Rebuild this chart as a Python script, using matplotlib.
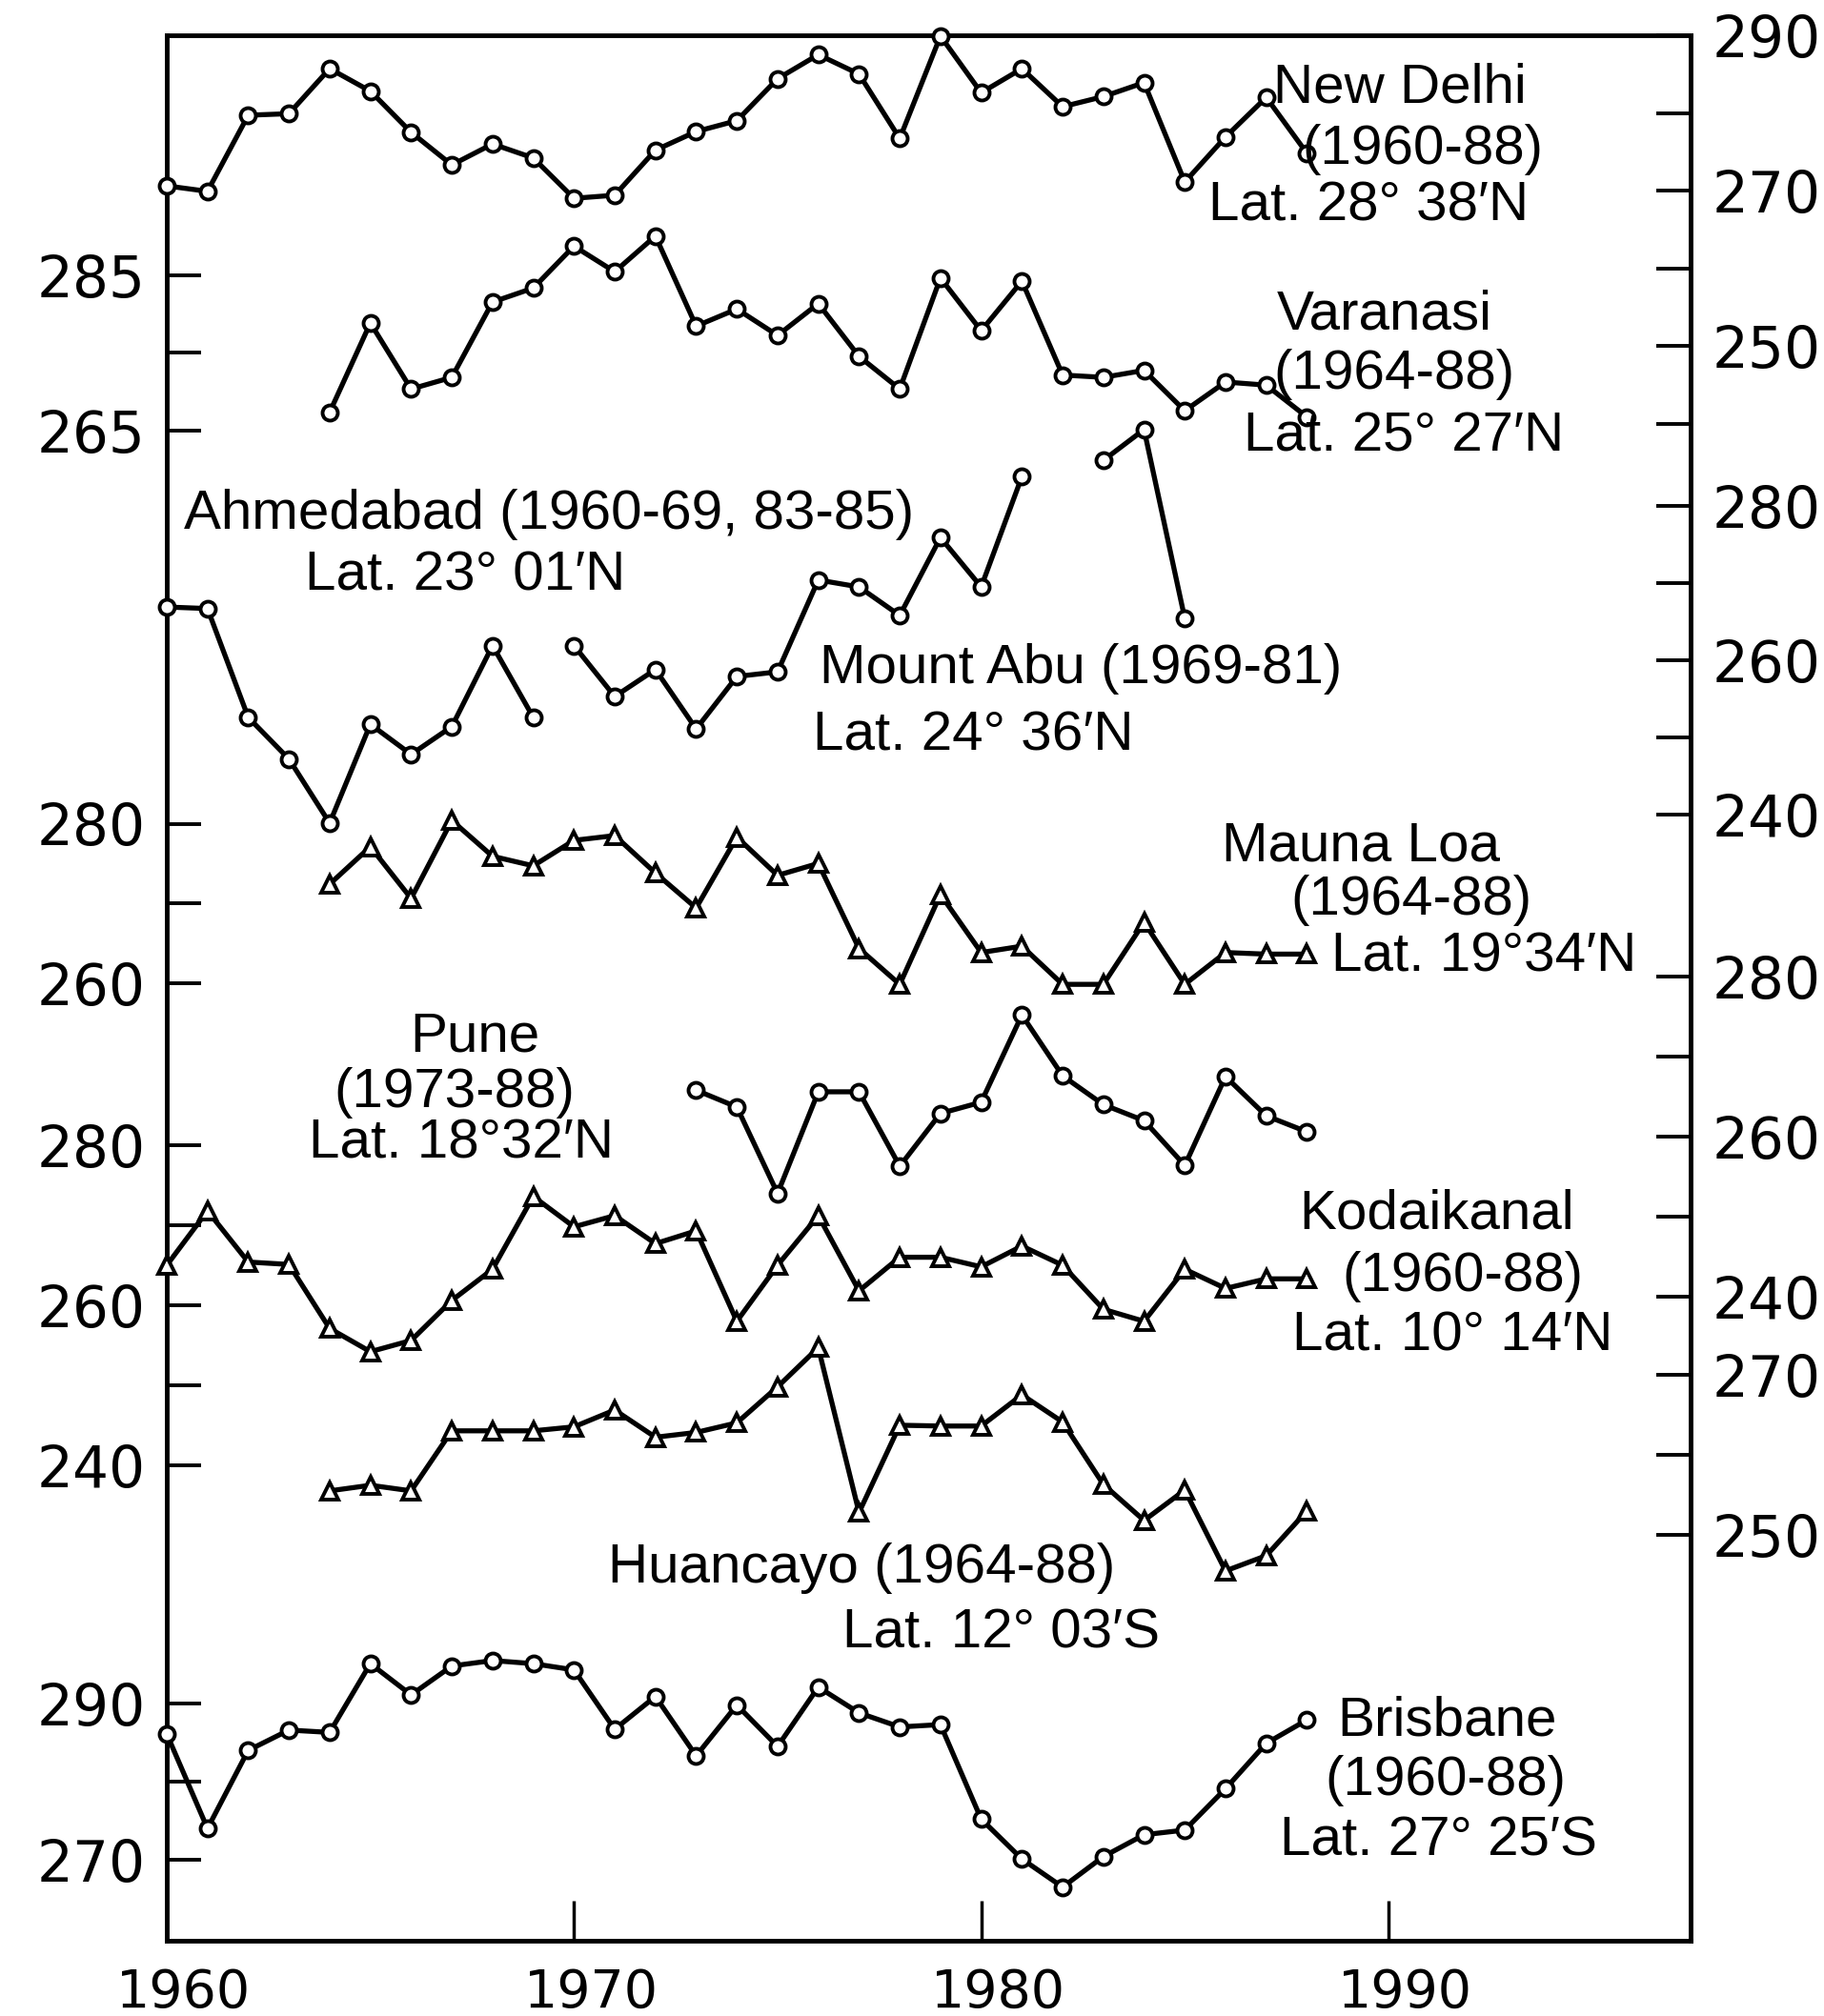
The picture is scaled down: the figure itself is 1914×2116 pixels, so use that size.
import numpy as np
import matplotlib
matplotlib.use('Agg')
import matplotlib.pyplot as plt
import matplotlib.transforms as mtransforms

# ---- data (annual mean total ozone) ----
nd_years = list(range(1960, 1989))
new_delhi = [270.6, 269.9, 279.7, 279.9, 285.7, 282.8, 277.5, 273.3, 276.0, 274.2,
             269.0, 269.4, 275.2, 277.6, 279.0, 284.4, 287.5, 285.0, 276.7, 289.9,
             282.6, 285.7, 280.8, 282.1, 283.9, 271.1, 276.9, 282.0, 274.8]

va_years = list(range(1964, 1989))
varanasi = [267.3, 278.8, 270.3, 271.8, 281.5, 283.3, 288.7, 285.4, 290.0, 278.4,
            280.6, 277.2, 281.3, 274.5, 270.3, 284.6, 277.8, 284.2, 272.1, 271.8,
            272.7, 267.5, 271.2, 270.8, 266.7]

ah_years_a = list(range(1960, 1970))
ahmedabad_a = [266.9, 266.7, 252.6, 247.2, 238.9, 251.7, 247.8, 251.4, 261.9, 252.6]
ah_years_b = [1983, 1984, 1985]
ahmedabad_b = [285.9, 289.9, 265.4]

ma_years = list(range(1970, 1982))
mount_abu = [261.9, 255.3, 258.8, 251.1, 257.9, 258.5, 270.4, 269.5, 265.8, 275.9,
             269.5, 283.8]

ml_years = list(range(1964, 1989))
mauna_loa = [272.4, 277.1, 270.6, 280.4, 275.9, 274.7, 277.9, 278.5, 273.8, 269.4,
             278.3, 273.5, 275.0, 264.3, 259.8, 271.1, 263.8, 264.6, 259.8, 259.8,
             267.6, 259.8, 263.8, 263.6, 263.6]

pu_years = list(range(1973, 1989))
pune = [265.8, 263.7, 252.9, 265.6, 265.6, 256.3, 262.9, 264.3, 275.2, 267.6,
        264.0, 262.0, 256.4, 267.5, 262.6, 260.6]

ko_years = list(range(1960, 1989))
kodaikanal = [265.0, 271.8, 265.4, 265.1, 257.1, 254.2, 255.6, 260.6, 264.5, 273.6,
              269.8, 271.2, 267.7, 269.3, 258.0, 265.0, 271.2, 261.8, 266.0, 266.0,
              264.8, 267.4, 265.0, 259.5, 258.0, 264.5, 262.1, 263.3, 263.3]

hu_years = list(range(1964, 1989))
huancayo = [255.5, 256.2, 255.5, 263.0, 263.0, 263.0, 263.5, 265.6, 262.2, 262.8,
            264.0, 268.5, 273.4, 252.8, 263.7, 263.6, 263.6, 267.5, 264.1, 256.3,
            251.8, 255.6, 245.5, 247.4, 253.0]

br_years = list(range(1960, 1989))
brisbane = [286.1, 274.0, 284.0, 286.6, 286.3, 295.1, 291.1, 294.8, 295.5, 295.1,
            294.3, 286.7, 290.9, 283.3, 289.8, 284.5, 292.1, 288.8, 287.0, 287.3,
            275.2, 270.1, 266.5, 270.4, 273.2, 273.8, 279.1, 284.9, 287.9]

# ---- layout (pixels of the 1915x2116 output) ----
W_PX, H_PX, DPI = 1915, 2116, 100
LEFT_PX, RIGHT_PX, TOP_PX, BOT_PX = 175, 1774, 37, 2037
PX_PER_YEAR = 42.73

# each scale: side, anchor value, anchor pixel row, pixels per unit, ticks, labelled ticks
scales = {
    'R1': ('right', 270, 200, 8.15, [290, 280, 270, 260, 250, 240], [290, 270, 250]),
    'R2': ('right', 260, 693, 8.1, [280, 270, 260, 250, 240], [280, 260, 240]),
    'R3': ('right', 260, 1193, 8.4, [280, 270, 260, 250, 240], [280, 260, 240]),
    'R4': ('right', 260, 1527, 8.4, [270, 260, 250], [270, 250]),
    'L1': ('left', 275, 370, 8.15, [285, 275, 265], [285, 265]),
    'L2': ('left', 270, 948, 8.35, [280, 270, 260], [280, 260]),
    'L3': ('left', 260, 1370, 8.4, [280, 270, 260, 250, 240], [280, 260, 240]),
    'L4': ('left', 290, 1788, 8.2, [290, 280, 270], [290, 270]),
}

series = [
    ('R1', nd_years, new_delhi, 'o'),
    ('L1', va_years, varanasi, 'o'),
    ('R2', ah_years_a, ahmedabad_a, 'o'),
    ('R2', ah_years_b, ahmedabad_b, 'o'),
    ('R2', ma_years, mount_abu, 'o'),
    ('L2', ml_years, mauna_loa, '^'),
    ('R3', pu_years, pune, 'o'),
    ('L3', ko_years, kodaikanal, '^'),
    ('R4', hu_years, huancayo, '^'),
    ('L4', br_years, brisbane, 'o'),
]

TEXT_FONT = ['Liberation Sans', 'DejaVu Sans']
labels = [
    (1336, 92, 'New Delhi'), (1366, 157, '(1960-88)'), (1268, 216, 'Lat. 28° 38′N'),
    (1340, 331, 'Varanasi'), (1336, 393, '(1964-88)'), (1305, 459, 'Lat. 25° 27′N'),
    (193, 540, 'Ahmedabad (1960-69, 83-85)'), (320, 605, 'Lat. 23° 01′N'),
    (860, 702, 'Mount Abu (1969-81)'), (853, 773, 'Lat. 24° 36′N'),
    (1282, 888, 'Mauna Loa'), (1354, 945, '(1964-88)'), (1397, 1005, 'Lat. 19°34′N'),
    (430, 1089, 'Pune'), (350, 1147, '(1973-88)'), (324, 1201, 'Lat. 18°32′N'),
    (1363, 1275, 'Kodaikanal'), (1408, 1340, '(1960-88)'), (1356, 1403, 'Lat. 10° 14′N'),
    (638, 1646, 'Huancayo (1964-88)'), (884, 1714, 'Lat. 12° 03′S'),
    (1403, 1806, 'Brisbane'), (1390, 1869, '(1960-88)'), (1343, 1932, 'Lat. 27° 25′S'),
]

plt.rcParams['font.family'] = ['DejaVu Sans']

fig = plt.figure(figsize=(W_PX / DPI, H_PX / DPI), dpi=DPI)
pos = [LEFT_PX / W_PX, 1 - BOT_PX / H_PX,
       (RIGHT_PX - LEFT_PX) / W_PX, (BOT_PX - TOP_PX) / H_PX]
ax = fig.add_axes(pos)
ax.set_xlim(1960, 1960 + (RIGHT_PX - LEFT_PX) / PX_PER_YEAR)
ax.set_ylim(0, 1)
ax.set_yticks([])
ax.set_xticks([1960, 1970, 1980, 1990])
ax.tick_params(axis='x', direction='in', length=30, width=2.5, pad=20, labelsize=40)
for sp in ax.spines.values():
    sp.set_linewidth(3.5)
# year labels sit a little right of their ticks in the original
shift = mtransforms.ScaledTranslation(0.18, 0, fig.dpi_scale_trans)
for lab in ax.get_xticklabels():
    lab.set_transform(lab.get_transform() + shift)

scale_axes = {}
for key, (side, v0, y0, s, ticks, labelled) in scales.items():
    g = fig.add_axes(pos, sharex=ax)
    g.patch.set_visible(False)
    for sp in g.spines.values():
        sp.set_visible(False)
    g.set_ylim(v0 - (BOT_PX - y0) / s, v0 + (y0 - TOP_PX) / s)
    g.tick_params(axis='x', which='both', bottom=False, top=False,
                  labelbottom=False, labeltop=False)
    g.yaxis.set_ticks_position(side)
    g.set_yticks(ticks)
    g.set_yticklabels([str(t) if t in labelled else '' for t in ticks])
    g.tick_params(axis='y', direction='in', length=26, width=2.8, pad=16, labelsize=43)
    scale_axes[key] = g

for key, yrs, vals, mk in series:
    g = scale_axes[key]
    g.plot(yrs, vals, color='black', lw=3.8, marker=mk,
           ms=13 if mk == '^' else 11.5, mfc='white', mec='black', mew=2.8,
           clip_on=False, zorder=3)

for x, y, s in labels:
    fig.text(x / W_PX, 1 - y / H_PX, s, ha='left', va='center',
             fontsize=42, family=TEXT_FONT)

fig.savefig('out.png', dpi=DPI)
